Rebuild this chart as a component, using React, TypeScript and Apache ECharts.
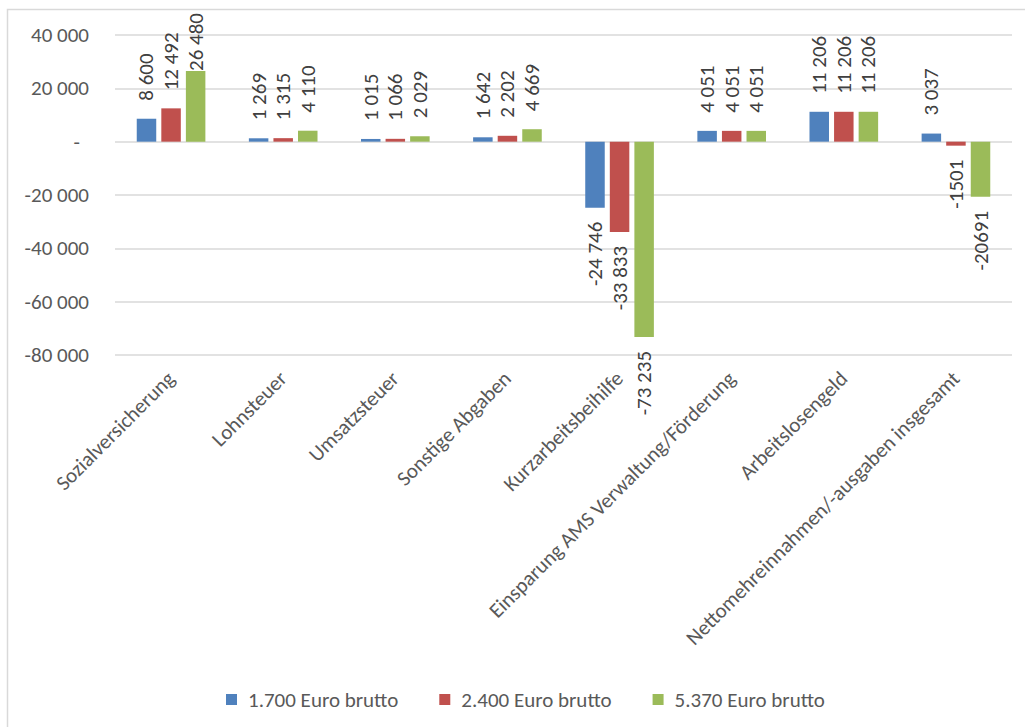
import React, { useEffect, useRef } from "react";
import * as echarts from "echarts";

const categories = [
  "Sozialversicherung",
  "Lohnsteuer",
  "Umsatzsteuer",
  "Sonstige Abgaben",
  "Kurzarbeitsbeihilfe",
  "Einsparung AMS Verwaltung/Förderung",
  "Arbeitslosengeld",
  "Nettomehreinnahmen/-ausgaben insgesamt",
];
const seriesNames = ["1.700 Euro brutto", "2.400 Euro brutto", "5.370 Euro brutto"];
const brutto1700 = [8600, 1269, 1015, 1642, -24746, 4051, 11206, 3037];
const brutto2400 = [12492, 1315, 1066, 2202, -33833, 4051, 11206, -1501];
const brutto5370 = [26480, 4110, 2029, 4669, -73235, 4051, 11206, -20691];
const colors = ["#4F81BD", "#C0504D", "#9BBB59"];
const yMin = -80000;
const yMax = 40000;
const yStep = 20000;

const FONT = "Carlito, Calibri, Lato, sans-serif";
const FS = 21;

function group(v: number, sep: boolean): string {
  const s = String(Math.abs(v));
  const body = sep ? s.replace(/\B(?=(\d{3})+(?!\d))/g, " ") : s;
  return (v < 0 ? "-" : "") + body;
}

export default function App() {
  const ref = useRef<HTMLDivElement>(null);
  useEffect(() => {
    if (!ref.current) return;
    const chart = echarts.init(ref.current, null, { renderer: "svg" });
    const all = [brutto1700, brutto2400, brutto5370];
    const lastIdx = categories.length - 1;
    chart.setOption({
      animation: false,
      backgroundColor: "#ffffff",
      grid: { left: 115, right: 13, top: 35, bottom: 372, containLabel: false },
      legend: {
        left: 221,
        top: 684,
        icon: "rect",
        itemWidth: 11,
        itemHeight: 11,
        itemGap: 41,
        textStyle: {
          fontFamily: FONT,
          fontSize: FS,
          color: "#595959",
          padding: [0, 0, 0, 6],
        },
        data: seriesNames,
      },
      xAxis: {
        type: "category",
        data: categories,
        axisLine: { show: false, onZero: false },
        axisTick: { show: false },
        axisLabel: {
          interval: 0,
          rotate: 45,
          margin: 20,
          fontFamily: FONT,
          fontSize: FS,
          color: "#595959",
        },
      },
      yAxis: {
        type: "value",
        min: yMin,
        max: yMax,
        interval: yStep,
        axisLine: { show: false },
        axisTick: { show: false },
        splitLine: { lineStyle: { color: "#D9D9D9", width: 1.5 } },
        axisLabel: {
          margin: 26,
          fontFamily: FONT,
          fontSize: FS,
          color: "#595959",
          formatter: (v: number) => (v === 0 ? "{z|-}" : group(v, true)),
          rich: {
            z: { fontFamily: FONT, fontSize: FS, color: "#595959", padding: [0, 9, 0, 0] },
          },
        },
      },
      series: all.map((vals, si) => ({
        name: seriesNames[si],
        type: "bar",
        barWidth: 19.5,
        barGap: "26%",
        itemStyle: { color: colors[si] },
        labelLayout: (p: any) => {
          if (p.labelRect && p.labelRect.y < 13) {
            return {
              x: p.labelRect.x + p.labelRect.width / 2,
              y: 13 + p.labelRect.height,
            };
          }
          return {};
        },
        data: vals.map((v, ci) => ({
          value: v,
          label: {
            show: true,
            rotate: 90,
            position: v < 0 ? "bottom" : "top",
            align: v < 0 ? "right" : "left",
            verticalAlign: "middle",
            distance: v < 0 ? 14 : 18,
            fontFamily: FONT,
            fontSize: FS,
            color: "#404040",
            formatter: () => group(v, !(ci === lastIdx && v < 0)),
          },
        })),
      })),
      graphic: [
        {
          type: "rect",
          z: 100,
          shape: { x: 0, y: 0, width: 1025, height: 9 },
          style: { fill: "#ffffff" },
        },
        {
          type: "rect",
          z: 101,
          shape: { x: 7.5, y: 9.5, width: 1100, height: 800 },
          style: { fill: "none", stroke: "#D9D9D9", lineWidth: 1.5 },
        },
      ],
    });
    return () => chart.dispose();
  }, []);
  return (
    <div
      ref={ref}
      style={{ position: "fixed", left: 0, top: 0, width: 1025, height: 727, background: "#fff" }}
    />
  );
}
